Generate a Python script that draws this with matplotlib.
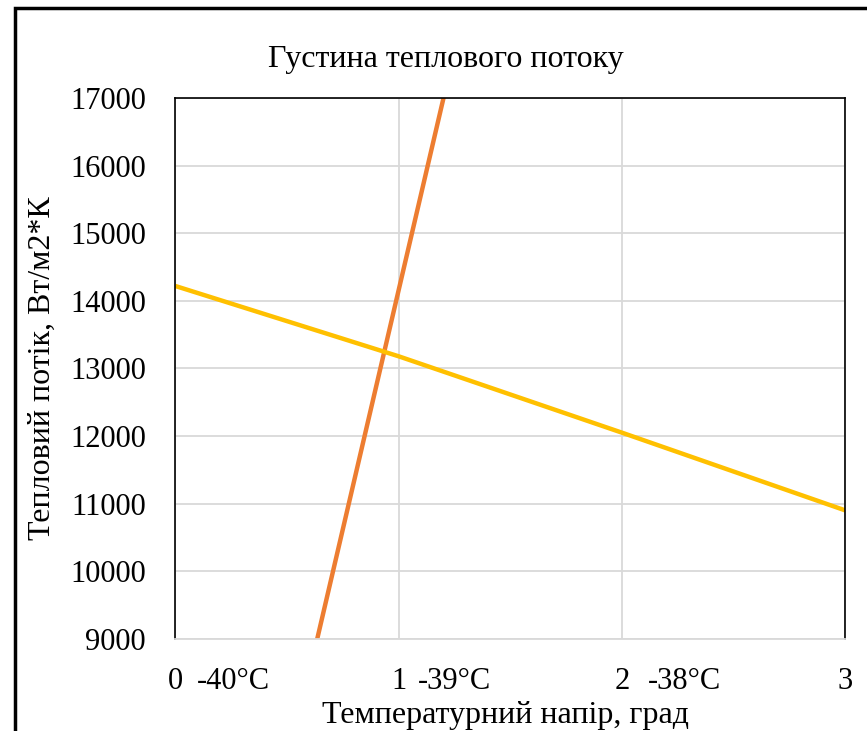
import matplotlib
matplotlib.use("Agg")
import matplotlib.pyplot as plt
from matplotlib.patches import Rectangle

# temperature head, grad
dT = [0, 1, 2, 3]
# heat flux, orange series (rises steeply, clipped by the axis)
q_orange = [0, 14150, 28300, 42450]
# heat flux, yellow series
q_yellow = [14220, 13180, 12050, 10900]

xtick_labels = ["0", "1", "2", "3"]
temp_labels = ["-40°C", "-39°C", "-38°C"]
temp_pos = [0.26, 1.25, 2.28]

plt.rcParams['font.family'] = ['Liberation Serif', 'DejaVu Serif']

fig = plt.figure(figsize=(8.67, 7.31), dpi=100)
ax = fig.add_axes([0.202, 0.126, 0.773, 0.740])

ax.plot(dT, q_orange, color='#ED7D31', linewidth=3.2, solid_capstyle='butt')
ax.plot(dT, q_yellow, color='#FFC000', linewidth=3.2, solid_capstyle='butt')

ax.set_xlim(0, 3)
ax.set_ylim(9000, 17000)
ax.set_xticks(dT)
ax.set_xticklabels(xtick_labels)
ax.set_yticks(range(9000, 17001, 1000))
xpad = 20
ax.tick_params(length=0, labelsize=22, pad=xpad)
ax.tick_params(axis='y', pad=21)
ax.grid(True, color='#d9d9d9', linewidth=1.3)
ax.set_axisbelow(True)

for s in ['left', 'top', 'right']:
    ax.spines[s].set_color('black')
    ax.spines[s].set_linewidth(1.2)
ax.spines['bottom'].set_color('#d9d9d9')
ax.spines['bottom'].set_linewidth(1.3)

# temperature notes next to the tick numbers
for p, t in zip(temp_pos, temp_labels):
    ax.text(p, -xpad * 100 / 72 / 541, t, transform=ax.get_xaxis_transform(),
            ha='center', va='top', fontsize=22)

fig.text(505 / 867, 1 - 715 / 731, "Температурний напір, град",
         ha='center', va='center', fontsize=23)
fig.text(42 / 867, 1 - 368 / 731, "Тепловий потік, Вт/м2*К",
         ha='center', va='center', rotation=90, fontsize=23)
fig.text(0.514, 1 - 59 / 731, "Густина теплового потоку", ha='center', va='center', fontsize=23)

# outer chart border
fig.patches.append(Rectangle((0.017, -0.1), 1.2, 1.089, transform=fig.transFigure,
                             fill=False, edgecolor='black', linewidth=2.5, clip_on=False))

fig.savefig("out.png", dpi=100)
